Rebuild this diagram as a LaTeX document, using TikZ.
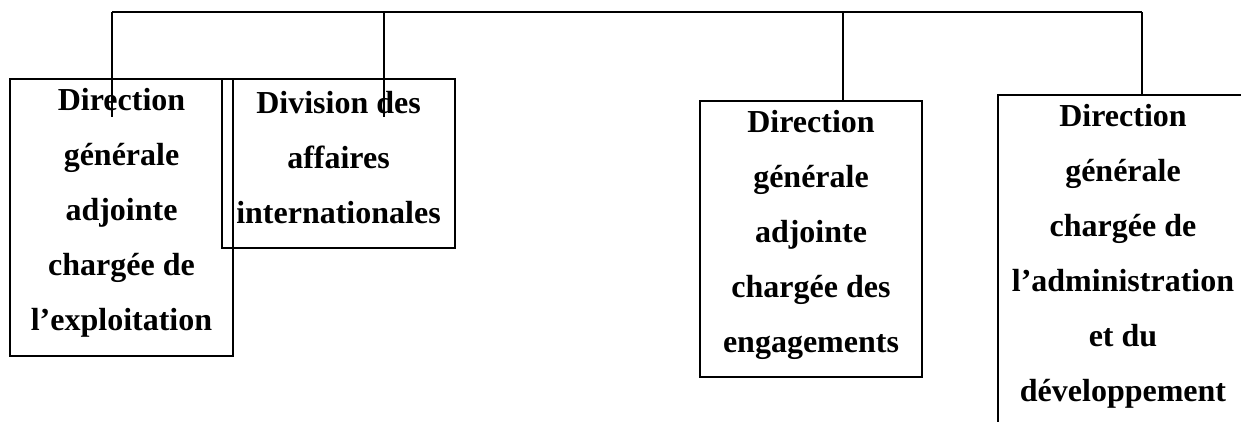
\documentclass[tikz,border=0pt]{standalone}
\usepackage{fontspec}
\setmainfont{Liberation Serif}
\begin{document}
\begin{tikzpicture}[x=1pt,y=-1pt,
  unit/.style={draw, line width=2pt, inner sep=0pt, rectangle},
  label/.style={inner sep=0pt, align=center, font=\bfseries\fontsize{32}{55}\selectfont},
  link/.style={line width=2pt}]
\clip (0,0) rectangle (1241,421);

% boxes of the four units
\node[unit, minimum width=223pt, minimum height=277pt] (b1) at (121.5,217.5) {};
\node[unit, minimum width=233pt, minimum height=169pt] (b2) at (338.5,163.5) {};
\node[unit, minimum width=222pt, minimum height=276pt] (b3) at (811,239) {};
\node[unit, minimum width=250pt, minimum height=350pt] (b4) at (1123,270) {};

% unit names
\node[label] (t1) at (121.5,213) {Direction\\générale\\adjointe\\chargée de\\l’exploitation};
\node[label] (t2) at (338.5,158) {Division des\\affaires\\internationales};
\node[label] (t3) at (811,235) {Direction\\générale\\adjointe\\chargée des\\engagements};
\node[label] (t4) at (1123,256) {Direction\\générale\\chargée de\\l’administration\\et du\\développement};

% junctions on the horizontal bus
\coordinate (j1) at (112,12);
\coordinate (j2) at (384,12);
\coordinate (j3) at (843,12);
\coordinate (j4) at (1142,12);
\coordinate (e1) at (112,117);
\coordinate (e2) at (384,117);

% bus and drops
\draw[link] (j1) -- (j4);
\draw[link] (j1) -- (e1);
\draw[link] (j2) -- (e2);
\draw[link] (j3) -- (j3 |- b3.north);
\draw[link] (j4) -- (j4 |- b4.north);
\end{tikzpicture}
\end{document}
